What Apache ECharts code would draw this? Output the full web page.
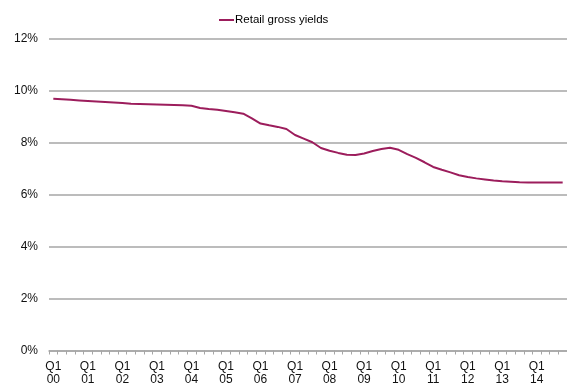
<!DOCTYPE html>
<html>
<head>
<meta charset="utf-8">
<script src="https://cdn.jsdelivr.net/npm/echarts@6/dist/echarts.min.js"></script>
<style>
html,body{margin:0;padding:0;background:#fff;}
#chart{width:567px;height:387px;}
</style>
</head>
<body>
<div id="chart"></div>
<script>
var years = ['00','01','02','03','04','05','06','07','08','09','10','11','12','13','14'];
var quarters = ['Q1','Q2','Q3','Q4'];
var seriesName = 'Retail gross yields';
var yields = [
  9.68, 9.66, 9.64, 9.62, 9.60, 9.58, 9.56, 9.54,
  9.52, 9.49, 9.48, 9.47, 9.46, 9.45, 9.44, 9.43,
  9.41, 9.33, 9.29, 9.26, 9.21, 9.16, 9.11, 8.93,
  8.73, 8.66, 8.60, 8.52, 8.29, 8.15, 8.01, 7.79,
  7.68, 7.60, 7.53, 7.52, 7.58, 7.67, 7.75, 7.80,
  7.72, 7.55, 7.41, 7.24, 7.06, 6.95, 6.85, 6.74,
  6.67, 6.62, 6.58, 6.54, 6.51, 6.49, 6.47, 6.46,
  6.46, 6.46, 6.46, 6.46
];
var yTicks = [0, 2, 4, 6, 8, 10, 12];

var categories = [];
years.forEach(function (y) {
  quarters.forEach(function (q) { categories.push(q + '\n' + y); });
});

var chart = echarts.init(document.getElementById('chart'), null, {renderer: 'canvas'});
chart.setOption({
  animation: false,
  backgroundColor: '#ffffff',
  textStyle: {fontFamily: 'Liberation Sans, Arial, sans-serif'},
  legend: {
    top: 9,
    left: 214,
    itemWidth: 15,
    itemHeight: 2,
    itemGap: 0,
    icon: 'rect',
    textStyle: {fontSize: 11.5, color: '#000', padding: [0, 0, 0, -4]},
    data: [seriesName]
  },
  grid: {left: 49, right: 0, top: 38.5, bottom: 36.5, containLabel: false},
  xAxis: {
    type: 'category',
    data: categories,
    boundaryGap: true,
    axisLine: {lineStyle: {color: '#a6a6a6', width: 1.5}},
    axisTick: {show: true, interval: 0, length: 4, lineStyle: {color: '#a6a6a6'}},
    axisLabel: {
      interval: function (idx) { return idx % 4 === 0; },
      fontSize: 12,
      color: '#111',
      lineHeight: 13.5,
      margin: 9
    },
    splitLine: {show: false}
  },
  yAxis: {
    type: 'value',
    min: yTicks[0],
    max: yTicks[yTicks.length - 1],
    interval: 2,
    axisLine: {show: false},
    axisTick: {show: false},
    axisLabel: {
      fontSize: 12,
      color: '#111',
      margin: 11,
      formatter: function (v) { return v + '%'; }
    },
    splitLine: {lineStyle: {color: '#a6a6a6', width: 1.5}}
  },
  series: [{
    name: seriesName,
    type: 'line',
    data: yields,
    showSymbol: false,
    symbol: 'none',
    lineStyle: {color: '#9c1d5c', width: 2},
    itemStyle: {color: '#9c1d5c'}
  }]
});
</script>
</body>
</html>
